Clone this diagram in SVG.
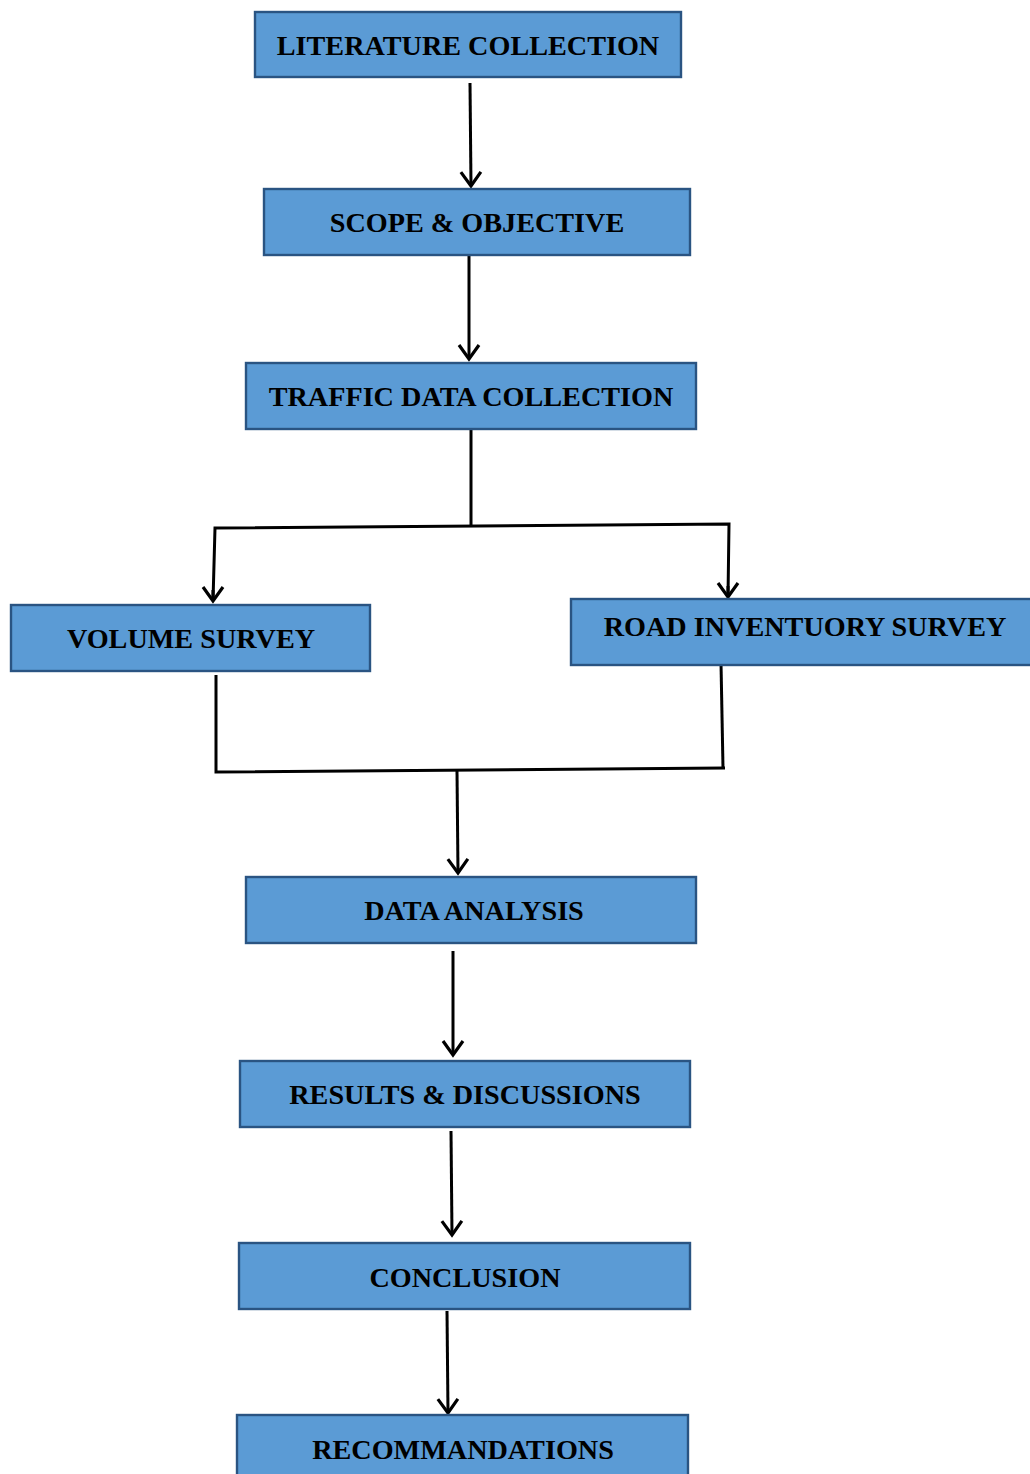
<svg xmlns="http://www.w3.org/2000/svg" width="1030" height="1474" viewBox="0 0 1030 1474">
<style>
.box{fill:#5B9BD5;stroke:#2A5482;stroke-width:2.4}
.lbl{font-family:"Liberation Serif","Times New Roman",serif;font-weight:bold;font-size:28.2px;fill:#000;text-anchor:middle}
.ln{fill:none;stroke:#000;stroke-width:3;stroke-linejoin:miter}
</style>
<defs>
<marker id="ah" markerUnits="userSpaceOnUse" viewBox="-18 -13 21 26" markerWidth="21" markerHeight="26" refX="0" refY="0" orient="auto">
<path d="M-14,-10 L0,0 L-14,10" fill="none" stroke="#000" stroke-width="3.2"/>
</marker>
</defs>
<rect width="1030" height="1474" fill="#fff"/>
<g id="connectors">
<line class="ln" x1="470" y1="83" x2="471" y2="186" marker-end="url(#ah)"/>
<line class="ln" x1="469" y1="256" x2="469" y2="359" marker-end="url(#ah)"/>
<line class="ln" x1="471" y1="430" x2="471" y2="526"/>
<polyline class="ln" points="213,601 215,528 729,524 728,597"/>
<line class="ln" x1="213" y1="590" x2="213" y2="601" marker-end="url(#ah)"/>
<line class="ln" x1="728" y1="586" x2="728" y2="597" marker-end="url(#ah)"/>
<polyline class="ln" points="216,675 216,772 725,768"/>
<line class="ln" x1="721" y1="663" x2="723" y2="768"/>
<line class="ln" x1="457" y1="771" x2="458" y2="873" marker-end="url(#ah)"/>
<line class="ln" x1="453" y1="951" x2="453" y2="1055" marker-end="url(#ah)"/>
<line class="ln" x1="451" y1="1131" x2="452" y2="1235" marker-end="url(#ah)"/>
<line class="ln" x1="447" y1="1311" x2="448" y2="1413" marker-end="url(#ah)"/>
</g>
<g id="n1"><rect class="box" x="255" y="12" width="426" height="65"/><text class="lbl" x="468" y="55">LITERATURE COLLECTION</text></g>
<g id="n2"><rect class="box" x="264" y="189" width="426" height="66"/><text class="lbl" x="477" y="232">SCOPE &amp; OBJECTIVE</text></g>
<g id="n3"><rect class="box" x="246" y="363" width="450" height="66"/><text class="lbl" x="471" y="406">TRAFFIC DATA COLLECTION</text></g>
<g id="n4"><rect class="box" x="11" y="605" width="359" height="66"/><text class="lbl" x="191" y="648">VOLUME SURVEY</text></g>
<g id="n5"><rect class="box" x="571" y="599" width="470" height="66"/><text class="lbl" x="805" y="636">ROAD INVENTUORY SURVEY</text></g>
<g id="n6"><rect class="box" x="246" y="877" width="450" height="66"/><text class="lbl" x="474" y="920">DATA ANALYSIS</text></g>
<g id="n7"><rect class="box" x="240" y="1061" width="450" height="66"/><text class="lbl" x="465" y="1104">RESULTS &amp; DISCUSSIONS</text></g>
<g id="n8"><rect class="box" x="239" y="1243" width="451" height="66"/><text class="lbl" x="465" y="1287">CONCLUSION</text></g>
<g id="n9"><rect class="box" x="237" y="1415" width="451" height="66"/><text class="lbl" x="463" y="1459">RECOMMANDATIONS</text></g>
</svg>
